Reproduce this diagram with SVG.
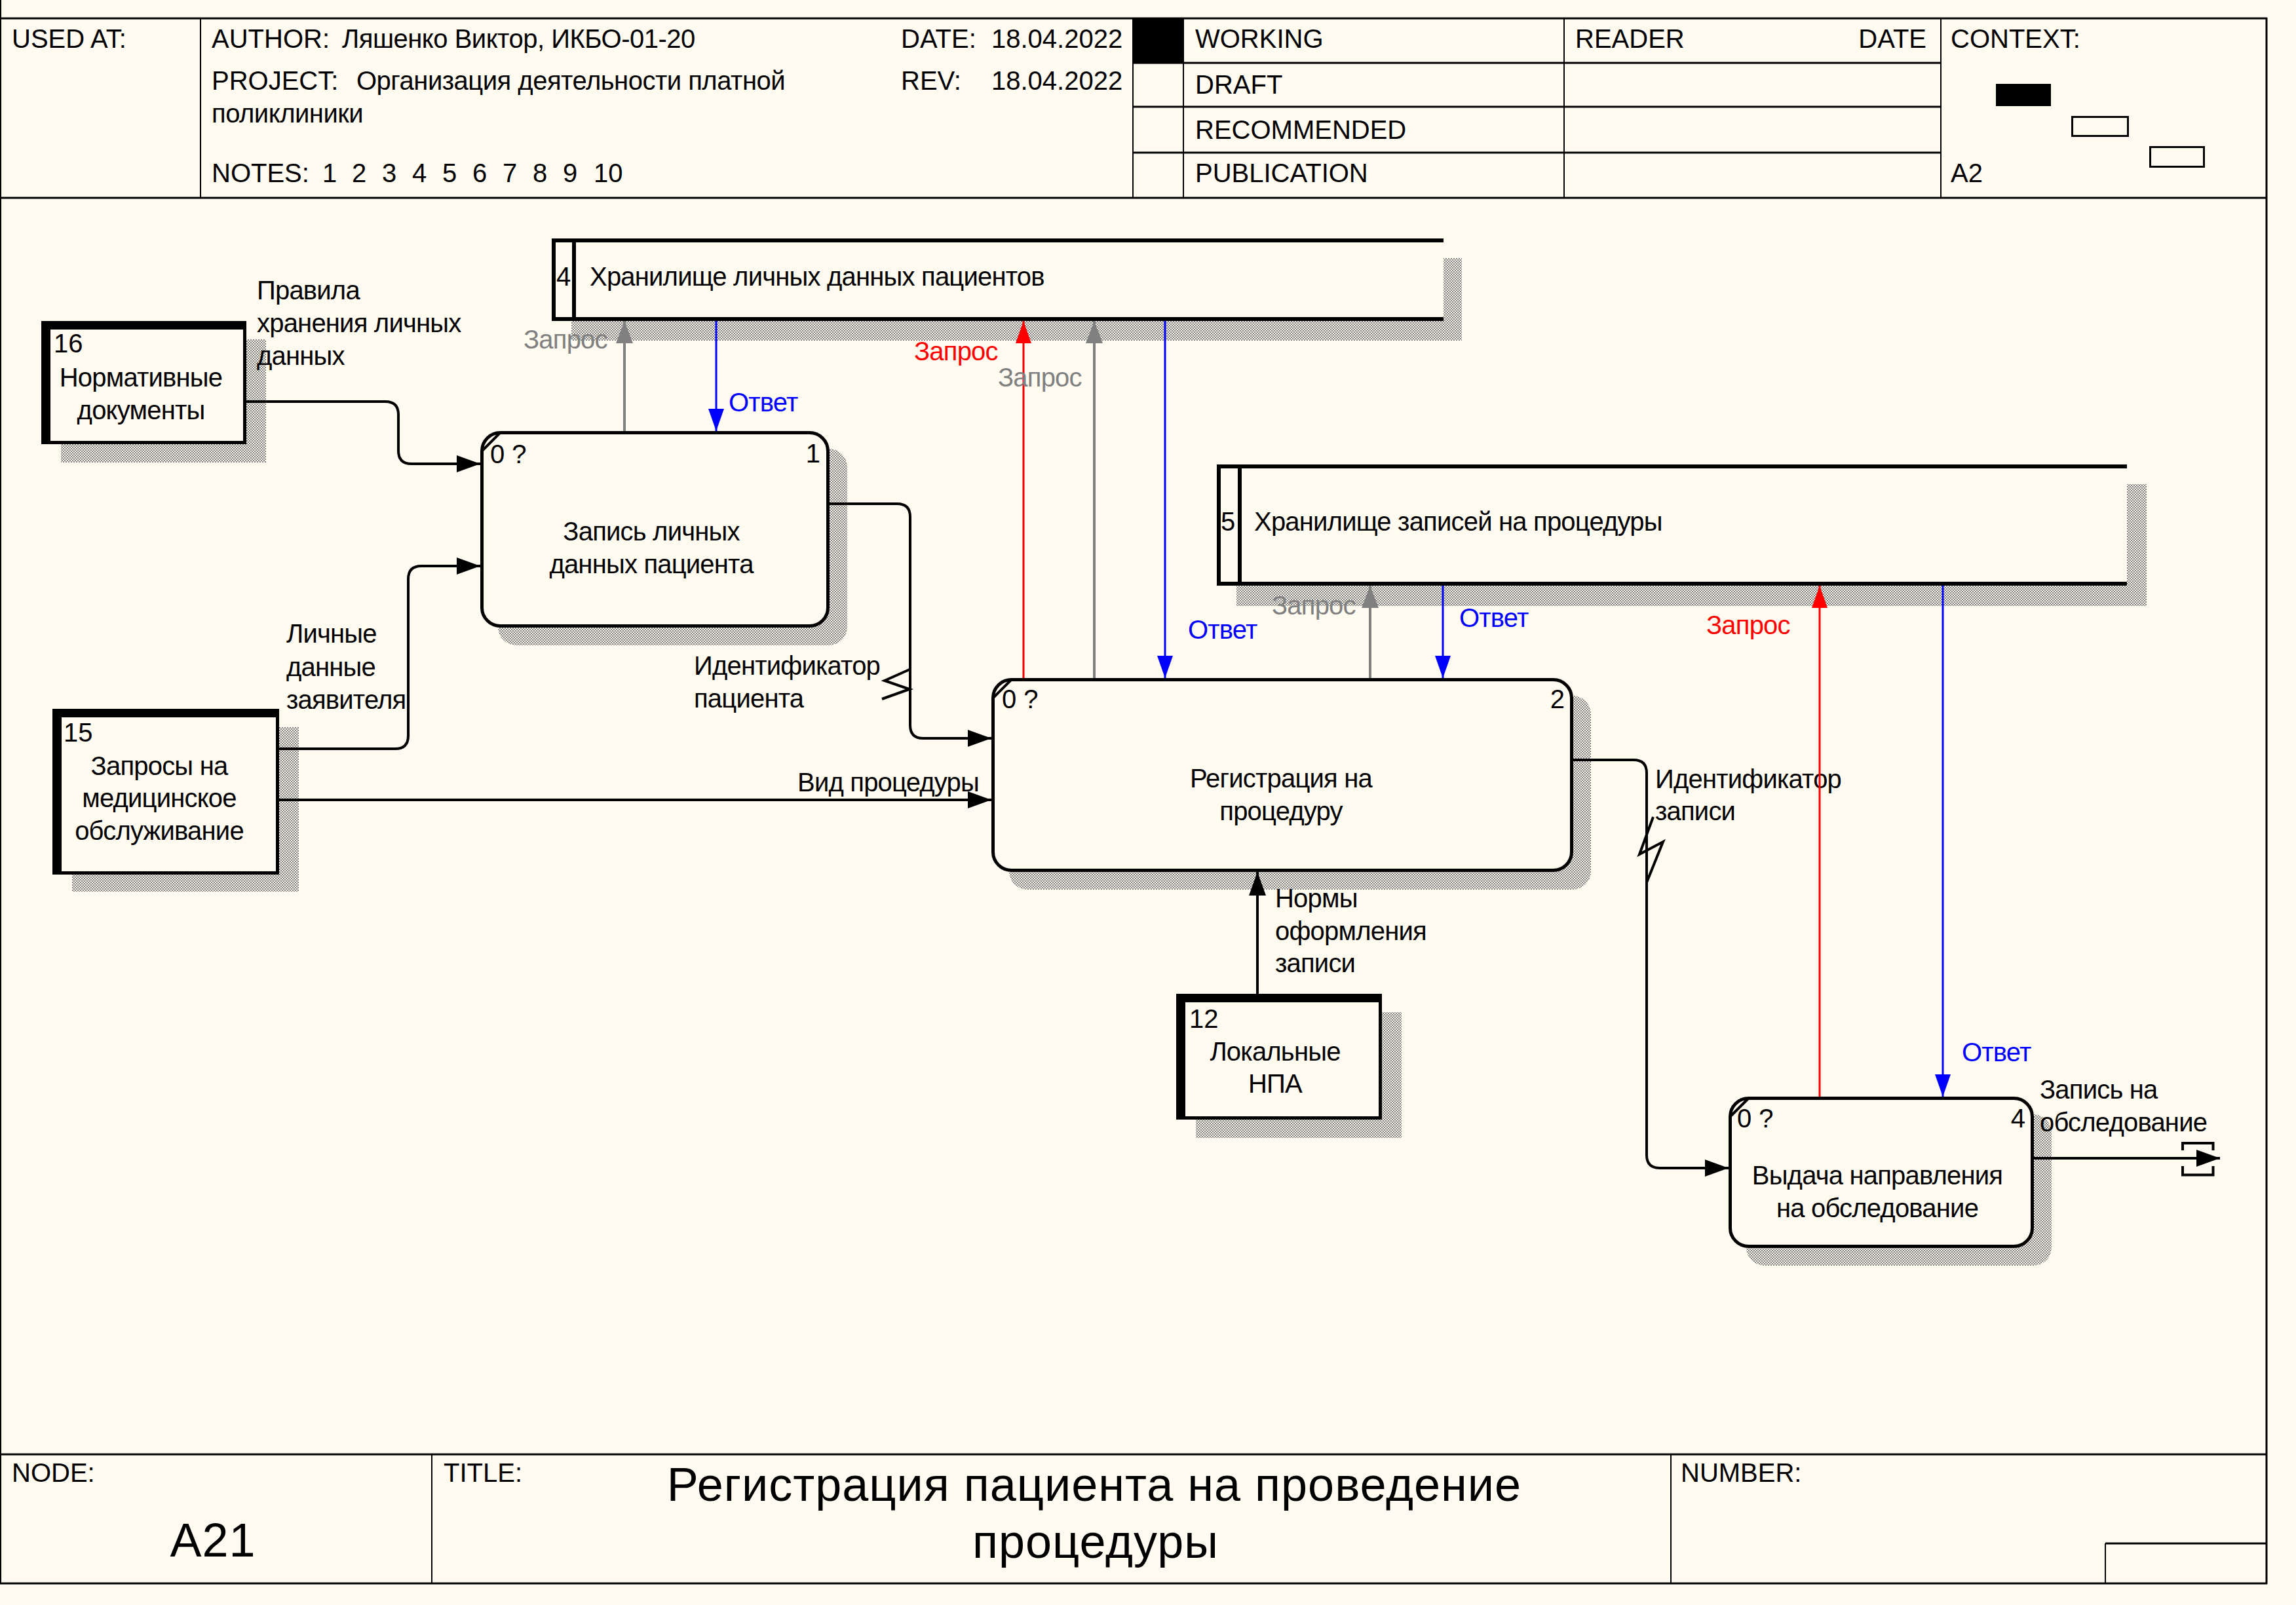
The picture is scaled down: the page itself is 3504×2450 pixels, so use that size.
<svg xmlns="http://www.w3.org/2000/svg" width="3504" height="2450" viewBox="0 0 3504 2450">
  <defs>
    <style>
      .t { font-family: "Liberation Sans", Arial, sans-serif; font-size: 40px; fill: #000; }
      .cy { letter-spacing: -0.8px; }
      .hc { letter-spacing: -0.5px; }
      .big { font-size: 72px; letter-spacing: 1px; }
      .mid { text-anchor: middle; }
      .end { text-anchor: end; }
      .gray { fill: #808080; }
      .red { fill: #ff0000; }
      .blue { fill: #0000ff; }
      .ln { stroke: #000; fill: none; }
      .box { fill: #fffbf0; stroke: #000; stroke-width: 5; }
      .ent { fill: #fffbf0; stroke: #000; stroke-width: 5; }
      .store { stroke: #000; stroke-width: 6; fill: none; }
      .shadow { fill: url(#hatch); stroke: none; }
      .blk { fill: none; stroke: #000; stroke-width: 4; marker-end: url(#mBlack); }
      .plain { fill: none; stroke: #000; stroke-width: 4; stroke-linejoin: miter; }
      .ga { fill: none; stroke: #808080; stroke-width: 4; marker-end: url(#mGray); }
      .ra { fill: none; stroke: #ff0000; stroke-width: 3; marker-end: url(#mRed); }
      .ba { fill: none; stroke: #0000ff; stroke-width: 3; marker-end: url(#mBlue); }
    </style>
    <!-- dithered drop-shadow fill -->
    <pattern id="hatch" patternUnits="userSpaceOnUse" width="4" height="4">
      <rect x="0" y="0" width="4" height="4" fill="#fffbf0"/>
      <rect x="0" y="0" width="2" height="2" fill="#808080"/>
      <rect x="2" y="2" width="2" height="2" fill="#808080"/>
    </pattern>
    <marker id="mBlack" viewBox="0 0 36 26" refX="36" refY="13" markerWidth="36" markerHeight="26" markerUnits="userSpaceOnUse" orient="auto">
      <path d="M0,0 L36,13 L0,26 Z" fill="#000"/>
    </marker>
    <marker id="mGray" viewBox="0 0 34 26" refX="34" refY="13" markerWidth="34" markerHeight="26" markerUnits="userSpaceOnUse" orient="auto">
      <path d="M0,0 L34,13 L0,26 Z" fill="#808080"/>
    </marker>
    <marker id="mRed" viewBox="0 0 34 24" refX="34" refY="12" markerWidth="34" markerHeight="24" markerUnits="userSpaceOnUse" orient="auto">
      <path d="M0,0 L34,12 L0,24 Z" fill="#ff0000"/>
    </marker>
    <marker id="mBlue" viewBox="0 0 34 24" refX="34" refY="12" markerWidth="34" markerHeight="24" markerUnits="userSpaceOnUse" orient="auto">
      <path d="M0,0 L34,12 L0,24 Z" fill="#0000ff"/>
    </marker>
  </defs>

  <rect x="0" y="0" width="3504" height="2450" fill="#fffbf0"/>

  <!-- Drawing frame, header and footer -->
  <g id="frame">
    <path class="ln" stroke-width="2" d="M1,0 V2417"/>
    <path class="ln" stroke-width="3" d="M0,28 H3460 M0,302 H3460 M0,2220 H3460 M0,2417 H3460"/>
    <path class="ln" stroke-width="3" d="M3459,27 V2418"/>
    <path class="ln" stroke-width="2" d="M306,28 V302 M1729,28 V302 M1806,28 V302 M2387,28 V302 M2962,28 V302"/>
    <path class="ln" stroke-width="3" d="M1729,96 H2962 M1729,163 H2962 M1729,233 H2962"/>
    <rect x="1729" y="28" width="77" height="68" fill="#000"/>
    <rect x="3046" y="128" width="84" height="34" fill="#000"/>
    <rect x="3162.5" y="178.5" width="85" height="29" class="ln" stroke-width="3"/>
    <rect x="3281.5" y="224.5" width="82" height="30" class="ln" stroke-width="3"/>
    <path class="ln" stroke-width="2" d="M659,2220 V2417 M2550,2220 V2417"/>
    <path class="ln" stroke-width="3" d="M3213,2356 H3459"/>
    <path class="ln" stroke-width="2" d="M3213,2356 V2417"/>

    <text class="t" x="18" y="73">USED AT:</text>
    <text class="t" x="323" y="73">AUTHOR:</text>
    <text class="t hc" x="522" y="73">Ляшенко Виктор, ИКБО-01-20</text>
    <text class="t" x="1375" y="73">DATE:</text>
    <text class="t" x="1513" y="73">18.04.2022</text>
    <text class="t" x="323" y="137">PROJECT:</text>
    <text class="t hc" x="544" y="137">Организация деятельности платной</text>
    <text class="t hc" x="323" y="187">поликлиники</text>
    <text class="t" x="1375" y="137">REV:</text>
    <text class="t" x="1513" y="137">18.04.2022</text>
    <text class="t" x="323" y="278">NOTES:<tspan x="492">1</tspan><tspan x="537">2</tspan><tspan x="583">3</tspan><tspan x="629">4</tspan><tspan x="675">5</tspan><tspan x="721">6</tspan><tspan x="767">7</tspan><tspan x="813">8</tspan><tspan x="859">9</tspan><tspan x="906">10</tspan></text>
    <text class="t" x="1824" y="73">WORKING</text>
    <text class="t" x="1824" y="143">DRAFT</text>
    <text class="t" x="1824" y="212">RECOMMENDED</text>
    <text class="t" x="1824" y="278">PUBLICATION</text>
    <text class="t" x="2404" y="73">READER</text>
    <text class="t end" x="2940" y="73">DATE</text>
    <text class="t" x="2977" y="73">CONTEXT:</text>
    <text class="t" x="2977" y="278">A2</text>

    <text class="t" x="18" y="2262">NODE:</text>
    <text class="t big mid" x="325" y="2376">A21</text>
    <text class="t" x="677" y="2262">TITLE:</text>
    <text class="t big mid" x="1670" y="2291">Регистрация пациента на проведение</text>
    <text class="t big mid" x="1672" y="2378">процедуры</text>
    <text class="t" x="2565" y="2262">NUMBER:</text>
  </g>

  <!-- Data store 4 -->
  <g id="store4">
    <rect class="shadow" x="872" y="394" width="1359" height="126"/>
    <rect x="842" y="364" width="1361" height="126" fill="#fffbf0"/>
    <path class="store" d="M842,367 H2203 M842,487 H2203 M845,364 V490 M876,364 V490"/>
    <text class="t" x="849" y="436">4</text>
    <text class="t cy" x="900" y="436">Хранилище личных данных пациентов</text>
  </g>

  <!-- Data store 5 -->
  <g id="store5">
    <rect class="shadow" x="1887" y="739" width="1389" height="186"/>
    <rect x="1857" y="709" width="1389" height="185" fill="#fffbf0"/>
    <path class="store" d="M1857,712 H3246 M1857,891 H3246 M1860,709 V894 M1892,709 V894"/>
    <text class="t" x="1863" y="810">5</text>
    <text class="t cy" x="1914" y="810">Хранилище записей на процедуры</text>
  </g>

  <!-- External entity 16 -->
  <g id="ext16">
    <rect class="shadow" x="93" y="518" width="313" height="188"/>
    <rect class="ent" x="65.5" y="492.5" width="308" height="183"/>
    <rect x="63" y="490" width="14" height="188" fill="#000"/>
    <rect x="63" y="490" width="313" height="13" fill="#000"/>
    <text class="t" x="82" y="538">16</text>
    <text class="t cy mid" x="215" y="590">Нормативные</text>
    <text class="t cy mid" x="215" y="640">документы</text>
  </g>

  <!-- External entity 15 -->
  <g id="ext15">
    <rect class="shadow" x="110" y="1110" width="346" height="251"/>
    <rect class="ent" x="82.5" y="1084.5" width="341" height="248"/>
    <rect x="80" y="1082" width="14" height="253" fill="#000"/>
    <rect x="80" y="1082" width="346" height="13" fill="#000"/>
    <text class="t" x="97" y="1132">15</text>
    <text class="t cy mid" x="243" y="1183">Запросы на</text>
    <text class="t cy mid" x="243" y="1232">медицинское</text>
    <text class="t cy mid" x="243" y="1282">обслуживание</text>
  </g>

  <!-- External entity 12 -->
  <g id="ext12">
    <rect class="shadow" x="1825" y="1545" width="314" height="192"/>
    <rect class="ent" x="1797.5" y="1519.5" width="309" height="187"/>
    <rect x="1795" y="1517" width="14" height="192" fill="#000"/>
    <rect x="1795" y="1517" width="314" height="13" fill="#000"/>
    <text class="t" x="1815" y="1569">12</text>
    <text class="t cy mid" x="1946" y="1619">Локальные</text>
    <text class="t cy mid" x="1946" y="1668">НПА</text>
  </g>

  <!-- Activity 1 -->
  <g id="act1">
    <rect class="shadow" x="760" y="685" width="533" height="300" rx="28"/>
    <rect class="box" x="735.5" y="660.5" width="528" height="295" rx="28"/>
    <path class="ln" stroke-width="4" d="M735.5,688.5 L763.5,660.5"/>
    <text class="t" x="748" y="707">0 ?</text>
    <text class="t end" x="1252" y="706">1</text>
    <text class="t cy mid" x="994" y="825">Запись личных</text>
    <text class="t cy mid" x="994" y="875">данных пациента</text>
  </g>

  <!-- Activity 2 -->
  <g id="act2">
    <rect class="shadow" x="1540" y="1062" width="888" height="296" rx="28"/>
    <rect class="box" x="1515.5" y="1037.5" width="883" height="291" rx="28"/>
    <path class="ln" stroke-width="4" d="M1515.5,1065.5 L1543.5,1037.5"/>
    <text class="t" x="1529" y="1081">0 ?</text>
    <text class="t end" x="2388" y="1081">2</text>
    <text class="t cy mid" x="1955" y="1202">Регистрация на</text>
    <text class="t cy mid" x="1955" y="1252">процедуру</text>
  </g>

  <!-- Activity 4 -->
  <g id="act4">
    <rect class="shadow" x="2665" y="1701" width="466" height="231" rx="28"/>
    <rect class="box" x="2640.5" y="1676.5" width="461" height="226" rx="28"/>
    <path class="ln" stroke-width="4" d="M2640.5,1704.5 L2668.5,1676.5"/>
    <text class="t" x="2651" y="1721">0 ?</text>
    <text class="t end" x="3091" y="1721">4</text>
    <text class="t cy mid" x="2865" y="1808">Выдача направления</text>
    <text class="t cy mid" x="2865" y="1858">на обследование</text>
  </g>

  <!-- Arrows and their labels -->
  <g id="connectors">
    <g id="c-rules">
      <path class="blk" d="M376,613 H588 Q608,613 608,633 V688 Q608,708 628,708 H733"/>
      <text class="t cy" x="392" y="457">Правила</text>
      <text class="t cy" x="392" y="507">хранения личных</text>
      <text class="t cy" x="392" y="557">данных</text>
    </g>
    <g id="c-personal">
      <path class="blk" d="M426,1143 H603 Q623,1143 623,1123 V884 Q623,864 643,864 H733"/>
      <text class="t cy" x="437" y="981">Личные</text>
      <text class="t cy" x="437" y="1032">данные</text>
      <text class="t cy" x="437" y="1082">заявителя</text>
    </g>
    <g id="c-kind">
      <path class="blk" d="M426,1221 H1513"/>
      <text class="t cy" x="1217" y="1208">Вид процедуры</text>
    </g>
    <g id="c-patient-id">
      <path class="blk" d="M1266,769 H1369 Q1389,769 1389,789 V1107 Q1389,1127 1409,1127 H1513"/>
      <path class="plain" d="M1388,1022 L1350,1039 L1388,1052 L1346,1067"/>
      <text class="t cy" x="1059" y="1030">Идентификатор</text>
      <text class="t cy" x="1059" y="1080">пациента</text>
    </g>
    <g id="c-record-id">
      <path class="blk" d="M2401,1160 H2493 Q2513,1160 2513,1180 V1763 Q2513,1783 2533,1783 H2638"/>
      <path class="plain" d="M2523,1247 L2502,1304 L2538,1285 L2513,1347"/>
      <text class="t cy" x="2526" y="1203">Идентификатор</text>
      <text class="t cy" x="2526" y="1252">записи</text>
    </g>
    <g id="c-norms">
      <path class="blk" d="M1919,1517 V1331"/>
      <text class="t cy" x="1946" y="1385">Нормы</text>
      <text class="t cy" x="1946" y="1435">оформления</text>
      <text class="t cy" x="1946" y="1484">записи</text>
    </g>
    <g id="c-output">
      <path class="blk" d="M3104,1768 H3388"/>
      <path class="plain" d="M3331,1756 V1745 H3377.5 V1756 M3331,1780 V1793.5 H3377.5 V1780"/>
      <text class="t cy" x="3113" y="1677">Запись на</text>
      <text class="t cy" x="3113" y="1727">обследование</text>
    </g>

    <g id="c-q1">
      <path class="ga" d="M953,658 V490"/>
      <text class="t cy gray" x="799" y="532">Запрос</text>
    </g>
    <g id="c-a1">
      <path class="ba" d="M1093,490 V658"/>
      <text class="t cy blue" x="1112" y="628">Ответ</text>
    </g>
    <g id="c-q2">
      <path class="ra" d="M1562,1035 V490"/>
      <text class="t cy red" x="1395" y="550">Запрос</text>
    </g>
    <g id="c-q3">
      <path class="ga" d="M1670,1035 V490"/>
      <text class="t cy gray" x="1523" y="590">Запрос</text>
    </g>
    <g id="c-a2">
      <path class="ba" d="M1778,490 V1035"/>
      <text class="t cy blue" x="1813" y="975">Ответ</text>
    </g>
    <g id="c-q4">
      <path class="ga" d="M2091,1035 V894"/>
      <text class="t cy gray" x="1941" y="938">Запрос</text>
    </g>
    <g id="c-a3">
      <path class="ba" d="M2202,894 V1035"/>
      <text class="t cy blue" x="2227" y="957">Ответ</text>
    </g>
    <g id="c-q5">
      <path class="ra" d="M2777,1674 V894"/>
      <text class="t cy red" x="2604" y="968">Запрос</text>
    </g>
    <g id="c-a4">
      <path class="ba" d="M2965,894 V1674"/>
      <text class="t cy blue" x="2994" y="1620">Ответ</text>
    </g>
  </g>
</svg>
